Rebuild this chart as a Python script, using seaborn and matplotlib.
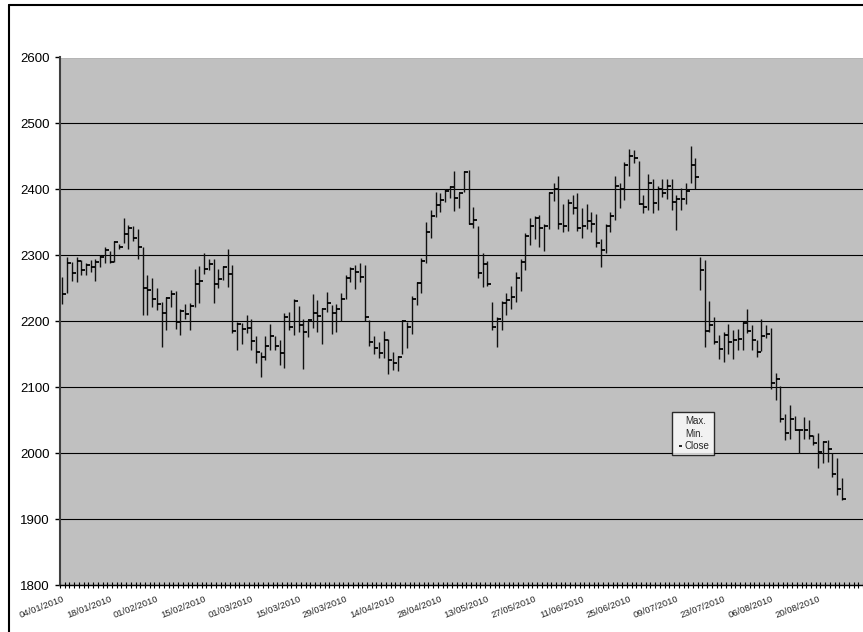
import numpy as np
import pandas as pd
import matplotlib
matplotlib.use("Agg")
import matplotlib.pyplot as plt
from matplotlib.lines import Line2D
import seaborn as sns

# ---------------- data ----------------
holidays = ["2010-04-02", "2010-04-05", "2010-05-03", "2010-05-31"]
dates = [d for d in pd.bdate_range("2010-01-04", "2010-08-27")
         if d.strftime("%Y-%m-%d") not in holidays]

high = [2267, 2297, 2290, 2298, 2293, 2288, 2293, 2295, 2300, 2312,
        2306, 2322, 2317, 2356, 2346, 2344, 2340, 2313, 2270, 2266,
        2250, 2229, 2237, 2248, 2246, 2218, 2226, 2227, 2279, 2284,
        2303, 2294, 2294, 2280, 2284, 2310, 2285, 2199, 2198, 2209,
        2203, 2177, 2153, 2178, 2196, 2178, 2171, 2212, 2214, 2233,
        2223, 2204, 2202, 2241, 2232, 2220, 2244, 2225, 2226, 2243,
        2270, 2283, 2286, 2289, 2286, 2202, 2178, 2169, 2185, 2173,
        2153, 2147, 2202, 2199, 2238, 2259, 2296, 2350, 2368, 2396,
        2395, 2400, 2405, 2428, 2395, 2428, 2429, 2373, 2344, 2304,
        2291, 2229, 2206, 2230, 2243, 2253, 2275, 2295, 2334, 2357,
        2359, 2361, 2347, 2396, 2409, 2421, 2378, 2385, 2392, 2395,
        2371, 2378, 2366, 2363, 2325, 2348, 2365, 2420, 2409, 2441,
        2461, 2460, 2443, 2391, 2423, 2415, 2405, 2415, 2415, 2415,
        2392, 2402, 2409, 2466, 2447, 2298, 2293, 2230, 2207, 2179,
        2184, 2196, 2186, 2189, 2199, 2219, 2194, 2172, 2203, 2195,
        2190, 2121, 2102, 2060, 2073, 2057, 2036, 2055, 2050, 2028,
        2030, 2019, 2020, 2000, 1992, 1962]
low = [2226, 2243, 2261, 2259, 2270, 2270, 2274, 2261, 2283, 2288,
       2289, 2290, 2309, 2319, 2309, 2321, 2295, 2209, 2209, 2222,
       2217, 2161, 2186, 2222, 2189, 2179, 2204, 2187, 2222, 2227,
       2272, 2278, 2228, 2250, 2262, 2252, 2182, 2156, 2166, 2182,
       2157, 2136, 2115, 2141, 2156, 2157, 2134, 2129, 2186, 2179,
       2184, 2128, 2176, 2190, 2184, 2166, 2214, 2181, 2184, 2200,
       2233, 2260, 2249, 2259, 2200, 2162, 2150, 2145, 2145, 2120,
       2126, 2124, 2150, 2160, 2181, 2224, 2243, 2288, 2327, 2358,
       2366, 2381, 2387, 2367, 2371, 2396, 2347, 2342, 2265, 2252,
       2253, 2186, 2161, 2187, 2209, 2219, 2229, 2246, 2278, 2315,
       2325, 2312, 2307, 2340, 2382, 2340, 2336, 2337, 2363, 2337,
       2327, 2340, 2336, 2313, 2282, 2303, 2336, 2353, 2372, 2384,
       2420, 2440, 2378, 2364, 2369, 2364, 2368, 2389, 2386, 2369,
       2338, 2368, 2378, 2410, 2400, 2247, 2161, 2184, 2166, 2143,
       2138, 2151, 2142, 2156, 2157, 2182, 2157, 2146, 2155, 2174,
       2098, 2080, 2047, 2020, 2021, 2035, 2000, 2021, 2021, 2012,
       1977, 1985, 1987, 1964, 1936, 1929]
close = [2242, 2289, 2273, 2292, 2278, 2285, 2283, 2290, 2298, 2308,
         2290, 2320, 2312, 2332, 2342, 2326, 2312, 2251, 2247, 2233,
         2226, 2213, 2236, 2241, 2199, 2215, 2211, 2223, 2256, 2261,
         2280, 2287, 2256, 2264, 2282, 2272, 2185, 2196, 2189, 2190,
         2170, 2154, 2146, 2162, 2177, 2163, 2152, 2207, 2191, 2231,
         2194, 2184, 2202, 2213, 2208, 2218, 2228, 2213, 2218, 2233,
         2265, 2280, 2274, 2267, 2207, 2168, 2160, 2152, 2172, 2141,
         2136, 2146, 2201, 2191, 2233, 2258, 2291, 2335, 2360, 2376,
         2384, 2398, 2403, 2387, 2394, 2427, 2348, 2354, 2273, 2287,
         2256, 2192, 2203, 2227, 2232, 2237, 2266, 2290, 2329, 2345,
         2356, 2342, 2345, 2394, 2401, 2347, 2344, 2380, 2372, 2341,
         2344, 2352, 2348, 2318, 2308, 2345, 2360, 2405, 2401, 2437,
         2450, 2447, 2378, 2374, 2409, 2379, 2401, 2394, 2405, 2381,
         2385, 2386, 2397, 2437, 2419, 2277, 2185, 2194, 2168, 2158,
         2179, 2168, 2171, 2173, 2197, 2185, 2172, 2154, 2177, 2181,
         2106, 2112, 2051, 2030, 2051, 2035, 2035, 2035, 2026, 2016,
         2002, 2017, 2006, 1968, 1946, 1931]

tick_labels = ["04/01/2010", "18/01/2010", "01/02/2010", "15/02/2010",
               "01/03/2010", "15/03/2010", "29/03/2010", "14/04/2010",
               "28/04/2010", "13/05/2010", "27/05/2010", "11/06/2010",
               "25/06/2010", "09/07/2010", "23/07/2010", "06/08/2010",
               "20/08/2010"]
y_ticks = [1800, 1900, 2000, 2100, 2200, 2300, 2400, 2500, 2600]

df = pd.DataFrame({"date": dates, "high": high, "low": low, "close": close})
df["idx"] = np.arange(len(df))

# ---------------- style ----------------
sns.set_theme(style="white")
plt.rcParams["font.family"] = ["Liberation Sans", "DejaVu Sans"]

W, H = 863, 632
fig = plt.figure(figsize=(W / 100, H / 100), dpi=100)
fig.patch.set_facecolor("white")

left_px, right_px, top_px, bot_px = 60, 863, 57.5, 585
ax = fig.add_axes([left_px / W, 1 - bot_px / H,
                   (right_px - left_px) / W, (bot_px - top_px) / H])
ax.set_facecolor("#C0C0C0")

# high-low bars
ax.vlines(df["idx"], df["low"], df["high"], color="#111111", linewidth=1.0, zorder=3)
# close ticks
sns.scatterplot(data=df, x="idx", y="close", marker=1, color="black",
                s=7, linewidth=1.3, ax=ax, zorder=4, legend=False)

ax.set_ylim(1800, 2600)
ax.set_xlim(-0.5, (right_px - left_px) / 4.74 - 0.5)
ax.set_yticks(y_ticks)
ax.set_yticklabels([str(v) for v in y_ticks], fontsize=9.5)
ax.yaxis.grid(True, color="black", linewidth=0.8)
ax.set_axisbelow(True)
ax.tick_params(axis="y", direction="out", length=3.5, width=1, pad=3.8,
               colors="black", left=True)

ax.set_xticks(np.arange(0, 161, 10))
ax.set_xticklabels(tick_labels, fontsize=6.8, rotation=21, ha="right",
                   rotation_mode="anchor")
ax.set_xticks(np.arange(-0.5, 170, 1), minor=True)
ax.tick_params(axis="x", which="major", length=0, pad=7)
ax.tick_params(axis="x", which="minor", direction="inout", length=5,
               width=0.8, color="black", bottom=True)
ax.set_xlabel("")
ax.set_ylabel("")

for s in ["top", "right"]:
    ax.spines[s].set_visible(False)
ax.spines["left"].set_color("#404040")
ax.spines["left"].set_linewidth(1.5)
ax.spines["bottom"].set_color("black")
ax.spines["bottom"].set_linewidth(1.0)

# legend
handles = [Line2D([], [], linestyle="none"),
           Line2D([], [], linestyle="none"),
           Line2D([], [], linestyle="none", marker=1, color="black",
                  markersize=2.5, markeredgewidth=1.2)]
leg = fig.legend(handles, ["Max.", "Min.", "Close"], loc="upper left",
                 bbox_to_anchor=(671.7 / W, 1 - 411.7 / H),
                 bbox_transform=fig.transFigure, fontsize=7,
                 frameon=True, fancybox=False, shadow=False,
                 handlelength=0.6, handletextpad=0.3, labelspacing=0.25,
                 borderpad=0.45, borderaxespad=0)
leg.get_frame().set_edgecolor("black")
leg.get_frame().set_linewidth(1.0)
leg.get_frame().set_facecolor("white")

# outer chart border (left and top visible in the crop)
fig.add_artist(Line2D([8.5 / W, 8.5 / W], [1 - 4.5 / H, 0],
                      transform=fig.transFigure, color="black", linewidth=1.5))
fig.add_artist(Line2D([8.5 / W, 1], [1 - 4.5 / H, 1 - 4.5 / H],
                      transform=fig.transFigure, color="black", linewidth=1.5))

fig.savefig("out.png", dpi=100)
